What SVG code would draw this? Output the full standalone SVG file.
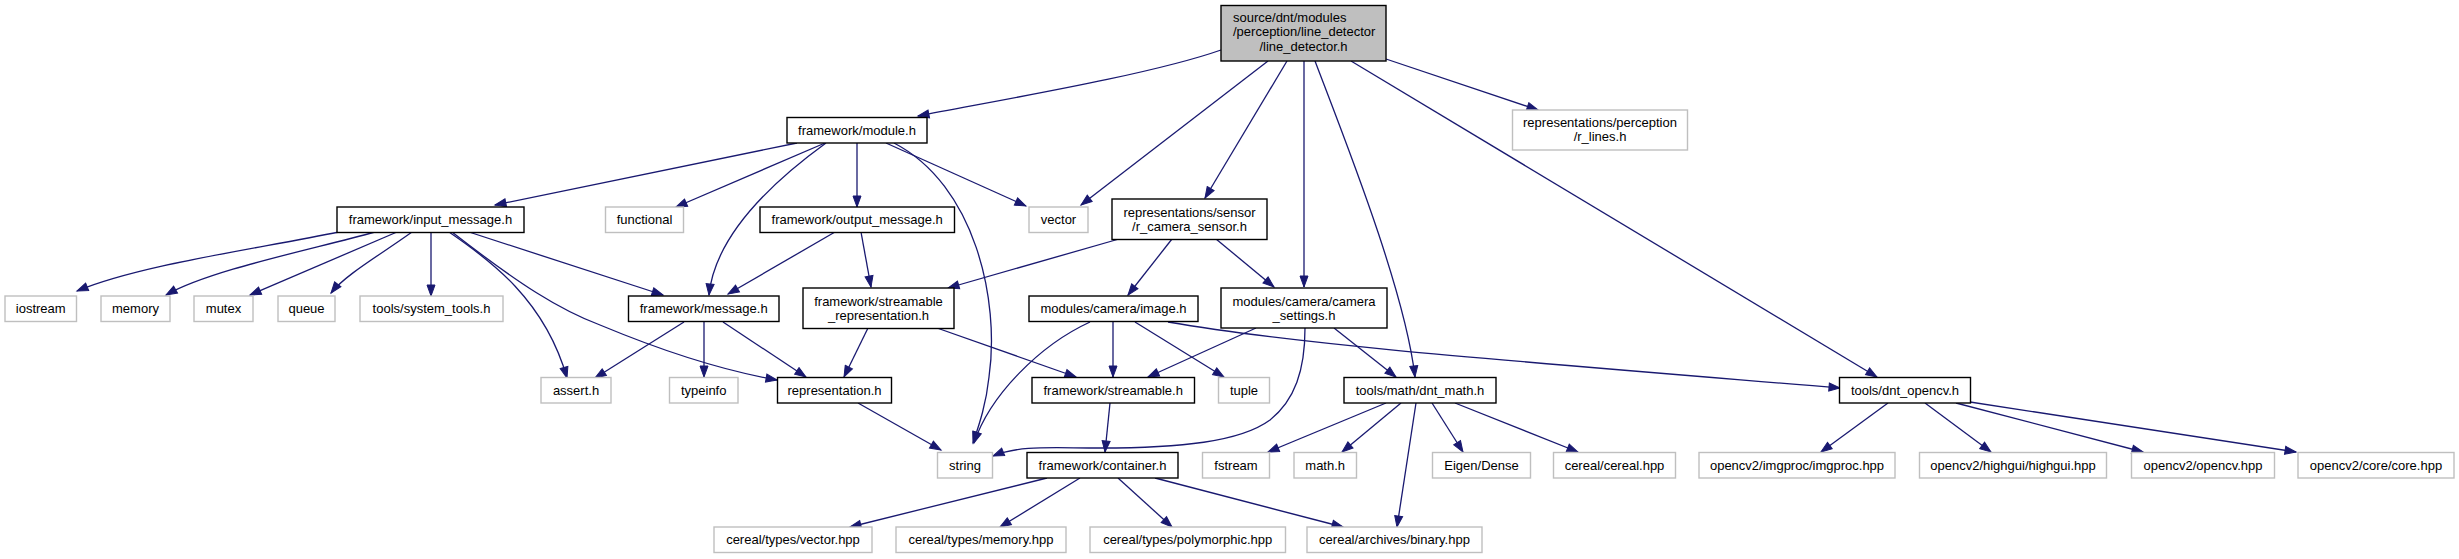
<svg xmlns="http://www.w3.org/2000/svg" width="2459" height="559" viewBox="0 0 2459 559">
<style>
.nb{fill:#ffffff;stroke:#000000;stroke-width:1.4}
.ng{fill:#ffffff;stroke:#bfbfbf;stroke-width:1.4}
.nm{fill:#bfbfbf;stroke:#000000;stroke-width:1.4}
text{font-family:"Liberation Sans",Arial,Helvetica,sans-serif;font-size:13px;fill:#000000;text-anchor:middle}
.l{text-anchor:start}
.e path{fill:none;stroke:#191970;stroke-width:1.3;marker-end:url(#ah)}
</style>
<defs>
<marker id="ah" markerUnits="userSpaceOnUse" markerWidth="14" markerHeight="10" viewBox="-12 -5 14 10" refX="0" refY="0" orient="auto">
<path d="M0,0 L-11,-4 L-11,4 z" fill="#191970" stroke="#191970" stroke-width="1"/>
</marker>
</defs>
<rect width="2459" height="559" fill="#ffffff"/>
<g class="e" id="connectors">
<path d="M1221,50 C1150,75 1000,100 918,116"/>
<path d="M1268,61 L1081,205"/>
<path d="M1287,61 L1205,198"/>
<path d="M1304,61 L1304,287"/>
<path d="M1315,61 C1345,140 1405,290 1415,377"/>
<path d="M1351,61 L1877,377"/>
<path d="M1386,59 L1538,110"/>
<path d="M797,143 L495,205"/>
<path d="M825,143 L676,207"/>
<path d="M826,143 C775,180 715,235 709,295"/>
<path d="M857,143 L857,207"/>
<path d="M886,143 L1026,206"/>
<path d="M894,143 C975,185 1000,300 989,377 C986,405 979,425 973,443"/>
<path d="M339,232 C250,250 140,265 77,291"/>
<path d="M375,232 C310,250 210,270 166,295"/>
<path d="M397,232 L250,295"/>
<path d="M412,232 C380,255 345,275 331,293"/>
<path d="M431,232 L431,296"/>
<path d="M449,232 C490,260 545,300 567,378"/>
<path d="M452,232 C520,285 560,310 600,325 C660,350 720,370 777,380"/>
<path d="M469,232 L663,295"/>
<path d="M835,232 L728,294"/>
<path d="M861,232 L871,287"/>
<path d="M1119,239 L948,288"/>
<path d="M1172,239 L1128,295"/>
<path d="M1216,239 L1274,287"/>
<path d="M684,322 L595,378"/>
<path d="M704,322 L704,377"/>
<path d="M723,322 L806,377"/>
<path d="M868,328 L844,377"/>
<path d="M937,328 L1076,377"/>
<path d="M1090,322 C1040,345 990,395 974,443"/>
<path d="M1113,322 L1113,377"/>
<path d="M1135,322 L1224,377"/>
<path d="M1168,322 C1300,345 1500,360 1840,388"/>
<path d="M1256,328 L1148,377"/>
<path d="M1305,328 C1305,370 1295,400 1270,420 C1240,442 1180,448 1100,448 C1050,448 1020,445 993,456"/>
<path d="M1334,328 L1396,377"/>
<path d="M858,403 L941,450"/>
<path d="M1110,403 L1105,452"/>
<path d="M1386,403 L1268,452"/>
<path d="M1401,403 L1342,452"/>
<path d="M1432,403 L1463,452"/>
<path d="M1455,403 L1578,452"/>
<path d="M1416,403 L1397,527"/>
<path d="M1047,478 L850,527"/>
<path d="M1080,478 L1000,527"/>
<path d="M1118,478 L1172,527"/>
<path d="M1155,478 L1343,527"/>
<path d="M1888,403 L1821,452"/>
<path d="M1925,403 L1991,452"/>
<path d="M1956,403 L2143,452"/>
<path d="M1970,402 L2296,452"/>
</g>
<g id="n_main"><rect class="nm" x="1221" y="5.5" width="165" height="55.5"/><text class="l" x="1233" y="22">source/dnt/modules</text><text class="l" x="1233" y="36.3">/perception/line_detector</text><text x="1303.5" y="50.5">/line_detector.h</text></g>
<g id="n_module"><rect class="nb" x="787" y="117.5" width="140" height="25.5"/><text x="857" y="134.7">framework/module.h</text></g>
<g id="n_r_lines"><rect class="ng" x="1512.5" y="110" width="175" height="40"/><text x="1600" y="127">representations/perception</text><text x="1600" y="141">/r_lines.h</text></g>
<g id="n_input_message"><rect class="nb" x="337" y="207" width="187" height="25.5"/><text x="430.5" y="224.2">framework/input_message.h</text></g>
<g id="n_functional"><rect class="ng" x="605.5" y="207" width="78" height="25.5"/><text x="644.5" y="224.2">functional</text></g>
<g id="n_output_message"><rect class="nb" x="760" y="207" width="194.5" height="25.5"/><text x="857.2" y="224.2">framework/output_message.h</text></g>
<g id="n_vector"><rect class="ng" x="1029" y="207" width="59" height="25.5"/><text x="1058.5" y="224.2">vector</text></g>
<g id="n_r_camera_sensor"><rect class="nb" x="1112" y="199" width="155" height="40.5"/><text x="1189.5" y="216.5">representations/sensor</text><text x="1189.5" y="230.5">/r_camera_sensor.h</text></g>
<g id="n_iostream"><rect class="ng" x="5" y="296" width="71.5" height="25.5"/><text x="40.7" y="313.2">iostream</text></g>
<g id="n_memory"><rect class="ng" x="101" y="296" width="69" height="25.5"/><text x="135.5" y="313.2">memory</text></g>
<g id="n_mutex"><rect class="ng" x="194" y="296" width="59" height="25.5"/><text x="223.5" y="313.2">mutex</text></g>
<g id="n_queue"><rect class="ng" x="278" y="296" width="57" height="25.5"/><text x="306.5" y="313.2">queue</text></g>
<g id="n_system_tools"><rect class="ng" x="360" y="296" width="143" height="25.5"/><text x="431.5" y="313.2">tools/system_tools.h</text></g>
<g id="n_message"><rect class="nb" x="628.5" y="296" width="150.5" height="25.5"/><text x="703.7" y="313.2">framework/message.h</text></g>
<g id="n_streamable_representation"><rect class="nb" x="803" y="288" width="151" height="40.5"/><text x="878.5" y="305.5">framework/streamable</text><text x="878.5" y="319.5">_representation.h</text></g>
<g id="n_image"><rect class="nb" x="1029" y="296" width="169" height="25.5"/><text x="1113.5" y="313.2">modules/camera/image.h</text></g>
<g id="n_camera_settings"><rect class="nb" x="1221" y="288" width="166" height="40"/><text x="1304" y="305.5">modules/camera/camera</text><text x="1304" y="319.5">_settings.h</text></g>
<g id="n_assert"><rect class="ng" x="541" y="377.5" width="70" height="25.5"/><text x="576" y="394.7">assert.h</text></g>
<g id="n_typeinfo"><rect class="ng" x="669.5" y="377.5" width="68.5" height="25.5"/><text x="703.7" y="394.7">typeinfo</text></g>
<g id="n_representation"><rect class="nb" x="777.5" y="377.5" width="114" height="25.5"/><text x="834.5" y="394.7">representation.h</text></g>
<g id="n_streamable"><rect class="nb" x="1032" y="377.5" width="162.5" height="25.5"/><text x="1113.2" y="394.7">framework/streamable.h</text></g>
<g id="n_tuple"><rect class="ng" x="1218.5" y="377.5" width="51" height="25.5"/><text x="1244" y="394.7">tuple</text></g>
<g id="n_dnt_math"><rect class="nb" x="1344" y="377.5" width="152" height="25.5"/><text x="1420" y="394.7">tools/math/dnt_math.h</text></g>
<g id="n_dnt_opencv"><rect class="nb" x="1839.5" y="377.5" width="131" height="25.5"/><text x="1905" y="394.7">tools/dnt_opencv.h</text></g>
<g id="n_string"><rect class="ng" x="937.5" y="452.5" width="55" height="25.5"/><text x="965" y="469.7">string</text></g>
<g id="n_container"><rect class="nb" x="1027" y="452.5" width="151" height="25.5"/><text x="1102.5" y="469.7">framework/container.h</text></g>
<g id="n_fstream"><rect class="ng" x="1202.5" y="452.5" width="67" height="25.5"/><text x="1236" y="469.7">fstream</text></g>
<g id="n_math"><rect class="ng" x="1294" y="452.5" width="62.5" height="25.5"/><text x="1325.2" y="469.7">math.h</text></g>
<g id="n_eigen"><rect class="ng" x="1432.5" y="452.5" width="98" height="25.5"/><text x="1481.5" y="469.7">Eigen/Dense</text></g>
<g id="n_cereal"><rect class="ng" x="1553.5" y="452.5" width="122" height="25.5"/><text x="1614.5" y="469.7">cereal/cereal.hpp</text></g>
<g id="n_imgproc"><rect class="ng" x="1699" y="452.5" width="196" height="25.5"/><text x="1797" y="469.7">opencv2/imgproc/imgproc.hpp</text></g>
<g id="n_highgui"><rect class="ng" x="1919.5" y="452.5" width="187" height="25.5"/><text x="2013" y="469.7">opencv2/highgui/highgui.hpp</text></g>
<g id="n_opencv"><rect class="ng" x="2131.5" y="452.5" width="143" height="25.5"/><text x="2203" y="469.7">opencv2/opencv.hpp</text></g>
<g id="n_core"><rect class="ng" x="2298" y="452.5" width="156" height="25.5"/><text x="2376" y="469.7">opencv2/core/core.hpp</text></g>
<g id="n_vector_hpp"><rect class="ng" x="714" y="527" width="158" height="25.5"/><text x="793" y="544.2">cereal/types/vector.hpp</text></g>
<g id="n_memory_hpp"><rect class="ng" x="896" y="527" width="170" height="25.5"/><text x="981" y="544.2">cereal/types/memory.hpp</text></g>
<g id="n_polymorphic_hpp"><rect class="ng" x="1090" y="527" width="195.5" height="25.5"/><text x="1187.7" y="544.2">cereal/types/polymorphic.hpp</text></g>
<g id="n_binary_hpp"><rect class="ng" x="1307" y="527" width="175" height="25.5"/><text x="1394.5" y="544.2">cereal/archives/binary.hpp</text></g>
</svg>
